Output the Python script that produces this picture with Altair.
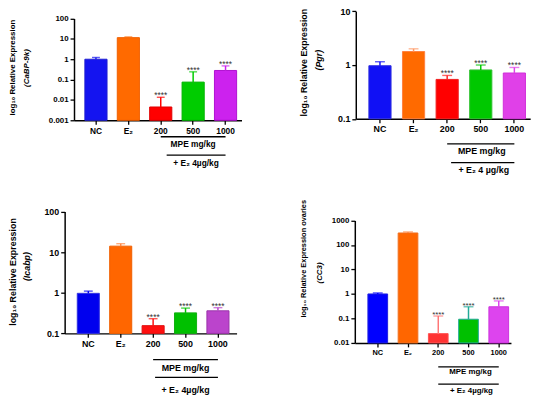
import altair as alt
import pandas as pd

# ---------------- data ----------------
groups = ["NC", "E₂", "200", "500", "1000"]
signif = ["", "", "****", "****", "****"]

cabp9k_mean = [1.0, 11.5, 0.0045, 0.075, 0.28]
cabp9k_upper = [1.22, 12.4, 0.0135, 0.24, 0.47]

pgr_mean = [0.97, 1.78, 0.54, 0.81, 0.71]
pgr_upper = [1.15, 2.0, 0.64, 1.0, 0.9]

icabp_mean = [0.97, 14.1, 0.155, 0.32, 0.36]
icabp_upper = [1.1, 16.2, 0.23, 0.42, 0.43]

cc3_mean = [1.0, 309.0, 0.024, 0.093, 0.30]
cc3_upper = [1.1, 340.0, 0.126, 0.30, 0.52]

ticks_cabp9k = [0.001, 0.01, 0.1, 1, 10, 100]
ticks_pgr = [0.1, 1, 10]
ticks_icabp = [0.1, 1, 10, 100]
ticks_cc3 = [0.01, 0.1, 1, 10, 100, 1000]

# ---------------- styles ----------------
FONT = "Liberation Sans"
W, H = 542, 396


def P(v):
    return v - 8


def panel(mean, upper, ticks, fills, strokes, errs, c):
    df = pd.DataFrame({"group": groups, "mean": mean, "upper": upper,
                       "sig": signif, "fill": fills, "stroke": strokes,
                       "err": errs})
    xs = alt.Scale(domain=groups, range=[P(c["x0"]), P(c["x1"])],
                   paddingInner=c["pi"], paddingOuter=c["po"], align=c["al"])
    ys = alt.Scale(type="log", domain=[ticks[0], ticks[-1]],
                   range=[P(c["yb"]), P(c["yt"])])
    xaxis = alt.Axis(orient="bottom", offset=P(c["yb"]) - H, labelAngle=0,
                     labelFont=FONT, labelFontSize=c["lfs"],
                     labelFontWeight="bold", labelColor="black",
                     labelPadding=2, tickSize=4, tickWidth=1.3,
                     tickColor="black", domainColor="black", domainWidth=1.5,
                     title=None, grid=False)
    yaxis = alt.Axis(orient="left", offset=-P(c["ax"]), values=ticks,
                     format="~g", labelFont=FONT, labelFontSize=c["yfs"],
                     labelFontWeight="bold", labelColor="black",
                     labelPadding=2, tickSize=4, tickWidth=1.3,
                     tickColor="black", domainColor="black", domainWidth=1.5,
                     grid=False, title=c["t1"], titleX=c["t1x"] - c["ax"],
                     titleY=P(c["t1y"]), titleAngle=270, titleAlign="center",
                     titleBaseline="middle", titleFont=FONT,
                     titleFontSize=c["t1fs"], titleFontWeight="bold",
                     titleColor="black")
    base = alt.Chart(df)
    x = alt.X("group:N", scale=xs, axis=xaxis, sort=groups)
    y = alt.Y("mean:Q", scale=ys, axis=yaxis)
    yu = alt.Y("upper:Q", scale=ys, axis=yaxis)
    bars = base.mark_bar(strokeWidth=1).encode(
        x=x, y=y, y2=alt.datum(ticks[0]),
        color=alt.Color("fill:N", scale=None),
        stroke=alt.Stroke("stroke:N", scale=None))
    whisk = base.mark_rule(strokeWidth=1.5).encode(
        x=x, y=y, y2="upper:Q", color=alt.Color("err:N", scale=None))
    caps = base.mark_tick(size=c["cap"], thickness=1.4).encode(
        x=x, y=yu, color=alt.Color("err:N", scale=None))
    stars = base.mark_text(font=FONT, fontSize=c["sfs"], color="#333333",
                           baseline="alphabetic", dy=1).encode(
        x=x, y=yu, text="sig:N")

    ann = alt.Chart(pd.DataFrame({"a": ["200"], "b": ["1000"], "m": ["500"]}))
    xa = alt.X("a:N", scale=xs, axis=xaxis)
    xm = alt.X("m:N", scale=xs, axis=xaxis)
    rule1 = ann.mark_rule(color="black", strokeWidth=1.3).encode(
        x=xa, x2="b", y=alt.value(P(c["r1y"])))
    rule2 = ann.mark_rule(color="black", strokeWidth=1.3,
                          xOffset=c["r2off"]).encode(
        x=xa, x2="b", y=alt.value(P(c["r2y"])))
    txt1 = ann.mark_text(text="MPE mg/kg", font=FONT, fontSize=c["afs"],
                         fontWeight="bold", baseline="middle",
                         dx=c["a1dx"]).encode(x=xm, y=alt.value(P(c["a1y"])))
    txt2 = ann.mark_text(text=c["a2"], font=FONT, fontSize=c["afs"],
                         fontWeight="bold", baseline="middle",
                         dx=c["a2dx"]).encode(x=xm, y=alt.value(P(c["a2y"])))
    t2 = ann.mark_text(text=c["t2"], font=FONT, fontSize=c["t2fs"],
                       fontWeight="bold", fontStyle="italic", angle=270,
                       align="center", baseline="middle").encode(
        x=alt.value(P(c["t2x"])), y=alt.value(P(c["t2y"])))
    return alt.layer(bars, whisk, caps, stars, rule1, rule2, txt1, txt2, t2)


p1 = panel(cabp9k_mean, cabp9k_upper, ticks_cabp9k,
           ["#1414F0", "#FF6A00", "#FF0000", "#00CC00", "#CC22EE"],
           ["#2020D0", "#F06000", "#E00000", "#00B400", "#B010D0"],
           ["#1414F0", "#FF6A00", "#FF0000", "#00CC00", "#CC22EE"],
           dict(x0=75, x1=245, pi=0.316, po=0.243, al=0.69, yb=119, yt=15.7,
                ax=75, lfs=8.5, yfs=8, t1="log₁₀ Relative Expression",
                t1x=13, t1y=65, t1fs=8, t2="(CaBP-9k)", t2x=27, t2y=66,
                t2fs=8, cap=8, sfs=8.5, r1y=135.7, r2y=154.3, r2off=6,
                a1y=143.3, a2y=162.7, a1dx=0, a2dx=3, afs=8.5,
                a2="+ E₂ 4µg/kg"))

p2 = panel(pgr_mean, pgr_upper, ticks_pgr,
           ["#1010F5", "#FF6A00", "#FF0000", "#00C800", "#E040E8"],
           ["#3030E0", "#FF8040", "#F02020", "#30C030", "#D030D8"],
           ["#1010F5", "#FF9966", "#FF2020", "#00C800", "#E040E8"],
           dict(x0=361, x1=538, pi=0.34, po=0.265, al=0.735, yb=117.5,
                yt=8.3, ax=361, lfs=9, yfs=9, t1="log₁₀ Relative Expression",
                t1x=308, t1y=60, t1fs=9, t2="(Pgr)", t2x=324, t2y=58,
                t2fs=9, cap=10, sfs=8.5, r1y=143, r2y=162, r2off=4,
                a1y=150, a2y=170, a1dx=1, a2dx=3, afs=9,
                a2="+ E₂ 4 µg/kg"))

p3 = panel(icabp_mean, icabp_upper, ticks_icabp,
           ["#0000EE", "#FF6600", "#FF1010", "#00C000", "#BB44CC"],
           ["#3030E0", "#F06000", "#E01010", "#10B010", "#9933AA"],
           ["#0000EE", "#FF8844", "#FF1010", "#00C000", "#BB44CC"],
           dict(x0=65.5, x1=240, pi=0.319, po=0.312, al=0.624, yb=335.3,
                yt=211.7, ax=65.5, lfs=9, yfs=9,
                t1="log₁₀ Relative Expression", t1x=13, t1y=272.5, t1fs=9,
                t2="(Icabp)", t2x=27, t2y=267.5, t2fs=9, cap=9, sfs=8.5,
                r1y=362, r2y=380, r2off=2, a1y=370, a2y=393, a1dx=0,
                a2dx=0, afs=9, a2="+ E₂ 4µg/kg"))

p4 = panel(cc3_mean, cc3_upper, ticks_cc3,
           ["#0000FF", "#FF6600", "#FF3333", "#00C000", "#DD44EE"],
           ["#2020E0", "#F07020", "#FF5050", "#22AA99", "#CC33DD"],
           ["#0000FF", "#FF8844", "#FF7777", "#22AA99", "#DD44EE"],
           dict(x0=360, x1=518.5, pi=0.349, po=0.256, al=0.847, yb=345,
                yt=220.7, ax=360, lfs=7.5, yfs=8,
                t1="log₁₀ Relative Expression ovaries", t1x=308, t1y=259,
                t1fs=7.5, t2="(CC3)", t2x=325, t2y=274, t2fs=8, cap=10,
                sfs=8, r1y=369.3, r2y=386.7, r2off=0, a1y=375, a2y=394.3,
                a1dx=2, a2dx=3, afs=8, a2="+ E₂ 4µg/kg"))

chart = (
    alt.layer(p1, p2, p3, p4)
    .resolve_scale(x="independent", y="independent")
    .resolve_axis(x="independent", y="independent")
    .properties(width=W, height=H, autosize=alt.AutoSizeParams(type="none"),
                padding=0, background="white")
    .configure_view(strokeWidth=0)
)

chart.save("out.html", embed_options={"renderer": "svg", "actions": False})
